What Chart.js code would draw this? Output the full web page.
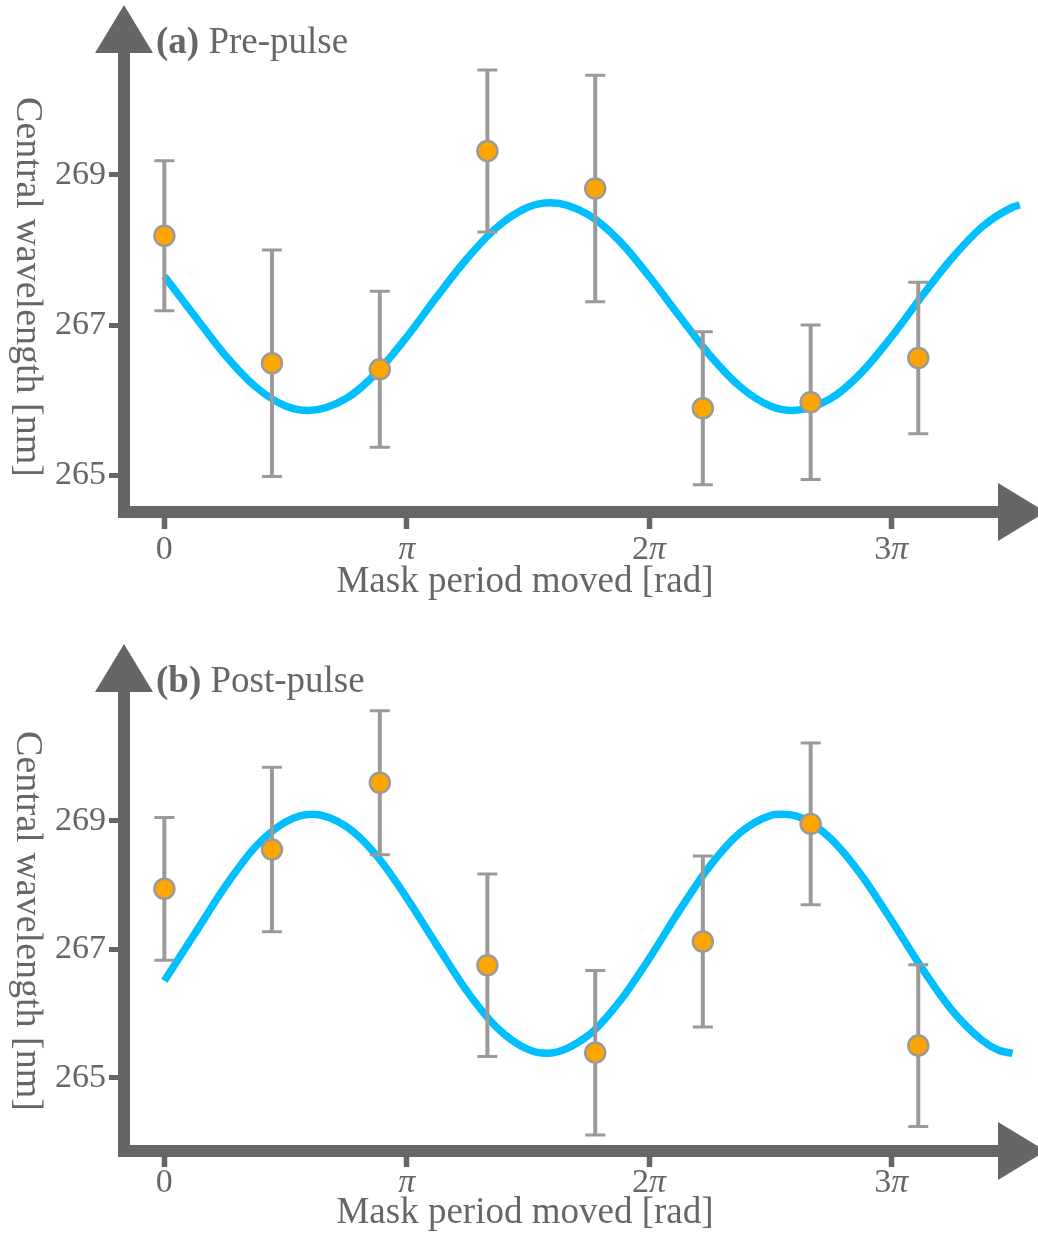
<!DOCTYPE html>
<html>
<head>
<meta charset="utf-8">
<script src="https://cdn.jsdelivr.net/npm/chart.js@4.4.0/dist/chart.umd.min.js"></script>
<style>
  body { margin: 0; background: #fff; }
  .panel { position: relative; width: 1038px; }
  #panelA { height: 616px; }
  #panelB { height: 617px; }
</style>
</head>
<body>
<div class="panel" id="panelA"><canvas id="chartA"></canvas></div>
<div class="panel" id="panelB"><canvas id="chartB"></canvas></div>
<script>
// mask shift of each measurement, in units of pi
const shifts = [0, 0.444, 0.889, 1.333, 1.778, 2.222, 2.667, 3.111];

// (a) pre-pulse: central wavelength [nm] and error
const preWavelength = [268.19, 266.49, 266.41, 269.32, 268.82, 265.89, 265.97, 266.56];
const preError = [1.0, 1.51, 1.04, 1.08, 1.51, 1.02, 1.03, 1.01];
const preFitShift = [0, 0.125, 0.25, 0.375, 0.5, 0.595, 0.75, 0.875, 1.0, 1.125, 1.25, 1.375, 1.5, 1.595, 1.75,
  1.875, 2.0, 2.125, 2.25, 2.375, 2.5, 2.595, 2.75, 2.875, 3.0, 3.125, 3.25, 3.375, 3.5, 3.53];
const preFit = [267.65, 267.12, 266.60, 266.18, 265.92, 265.86, 266.02, 266.36, 266.84, 267.38, 267.89, 268.31, 268.57, 268.63, 268.47,
  268.13, 267.65, 267.12, 266.60, 266.18, 265.92, 265.86, 266.02, 266.36, 266.84, 267.38, 267.89, 268.31, 268.57, 268.60];

// (b) post-pulse
const postWavelength = [267.94, 268.55, 269.59, 266.75, 265.39, 267.12, 268.95, 265.50];
const postError = [1.11, 1.28, 1.12, 1.42, 1.28, 1.33, 1.26, 1.26];
const postFitShift = [0, 0.125, 0.25, 0.375, 0.5, 0.61, 0.75, 0.875, 1.0, 1.125, 1.25, 1.375, 1.5, 1.58, 1.75,
  1.875, 2.0, 2.125, 2.25, 2.375, 2.5, 2.55, 2.625, 2.75, 2.875, 3.0, 3.125, 3.25, 3.375, 3.44, 3.5];
const postFit = [266.51, 267.24, 267.97, 268.59, 268.98, 269.10, 268.91, 268.46, 267.80, 267.06, 266.34, 265.77, 265.44, 265.38, 265.66,
  266.17, 266.85, 267.60, 268.29, 268.81, 269.08, 269.10, 269.05, 268.72, 268.16, 267.45, 266.71, 266.05, 265.58, 265.43, 265.38];

const yTicks = [265, 267, 269];
const xTicks = [0, 1, 2, 3];
const xTickNums = ['0', '', '2', '3'];

const AXIS = '#666666';
const BAR = '#9a9a9a';
const SERIF = '"Liberation Serif", "DejaVu Serif", serif';

// error bars go under the markers
const errorBars = {
  id: 'errorBars',
  beforeDatasetDraw(chart, args) {
    const ds = chart.data.datasets[args.index];
    if (!ds.errors) return;
    const { ctx, scales: { x, y } } = chart;
    ctx.save();
    ctx.strokeStyle = BAR;
    ds.data.forEach((p, i) => {
      const px = x.getPixelForValue(p.x);
      const lo = y.getPixelForValue(p.y - ds.errors[i]);
      const hi = y.getPixelForValue(p.y + ds.errors[i]);
      ctx.lineWidth = 4;
      ctx.beginPath();
      ctx.moveTo(px, lo);
      ctx.lineTo(px, hi);
      ctx.stroke();
      ctx.lineWidth = 3;
      ctx.beginPath();
      ctx.moveTo(px - 10, lo);
      ctx.lineTo(px + 10, lo);
      ctx.moveTo(px - 10, hi);
      ctx.lineTo(px + 10, hi);
      ctx.stroke();
    });
    ctx.restore();
  }
};

// thick arrow axes, pi tick labels and panel texts
const panelFrame = {
  id: 'panelFrame',
  beforeDatasetsDraw(chart, args, opts) {
    const { ctx, chartArea: area } = chart;
    const w = 12, head = 29, len = 48;
    const left = area.left, bottom = area.bottom;
    const cx = left + w / 2, cy = bottom - w / 2;
    ctx.save();
    ctx.fillStyle = AXIS;
    ctx.fillRect(left, opts.arrowTop + len - 1, w, bottom - opts.arrowTop - len + 1);
    ctx.beginPath();
    ctx.moveTo(cx, opts.arrowTop);
    ctx.lineTo(cx + head, opts.arrowTop + len);
    ctx.lineTo(cx - head, opts.arrowTop + len);
    ctx.closePath();
    ctx.fill();
    ctx.fillRect(left, bottom - w, opts.arrowRight - len - left + 1, w);
    ctx.beginPath();
    ctx.moveTo(opts.arrowRight, cy);
    ctx.lineTo(opts.arrowRight - len, cy - head);
    ctx.lineTo(opts.arrowRight - len, cy + head);
    ctx.closePath();
    ctx.fill();
    ctx.restore();
  },
  afterDraw(chart, args, opts) {
    const { ctx, scales: { x } } = chart;
    ctx.save();
    ctx.fillStyle = AXIS;
    ctx.textBaseline = 'alphabetic';

    // 0, pi, 2pi, 3pi
    const upright = '34px ' + SERIF;
    const italic = 'italic 34px ' + SERIF;
    xTicks.forEach((v, i) => {
      const num = xTickNums[i];
      const sym = v === 0 ? '' : 'π';
      ctx.font = upright;
      const wn = ctx.measureText(num).width;
      ctx.font = italic;
      const ws = ctx.measureText(sym).width;
      let px = x.getPixelForValue(v) - (wn + ws) / 2;
      ctx.textAlign = 'left';
      ctx.font = upright;
      ctx.fillText(num, px, opts.xTickBase);
      ctx.font = italic;
      ctx.fillText(sym, px + wn, opts.xTickBase);
    });

    // axis titles
    ctx.font = '37px ' + SERIF;
    ctx.textAlign = 'center';
    ctx.fillText('Mask period moved [rad]', 525, opts.xTitleBase);
    ctx.save();
    ctx.translate(17, opts.yTitleMid);
    ctx.rotate(Math.PI / 2);
    ctx.font = '38px ' + SERIF;
    ctx.fillText('Central wavelength [nm]', 0, 0);
    ctx.restore();

    // panel tag
    ctx.textAlign = 'left';
    ctx.font = 'bold 37px ' + SERIF;
    ctx.fillText(opts.tag, 156, opts.tagBase);
    const tw = ctx.measureText(opts.tag + ' ').width;
    ctx.font = '37px ' + SERIF;
    ctx.fillText(opts.name, 156 + tw, opts.tagBase);
    ctx.restore();
  }
};

function drawPanel(id, cfg) {
  return new Chart(document.getElementById(id), {
    type: 'scatter',
    data: {
      datasets: [
        {
          label: 'measured',
          data: shifts.map((s, i) => ({ x: s, y: cfg.values[i] })),
          errors: cfg.errors,
          pointRadius: 10,
          pointBackgroundColor: '#FFA500',
          pointBorderColor: BAR,
          pointBorderWidth: 2.5,
          order: 0,
        },
        {
          label: 'fit',
          data: cfg.fitShift.map((s, i) => ({ x: s, y: cfg.fit[i] })),
          showLine: true,
          pointRadius: 0,
          borderColor: '#00BFFF',
          borderWidth: 7.5,
          cubicInterpolationMode: 'monotone',
          order: 1,
        },
      ],
    },
    options: {
      responsive: true,
      maintainAspectRatio: false,
      animation: false,
      layout: { padding: { top: 30, right: 10, left: 0, bottom: 0 } },
      plugins: {
        legend: { display: false },
        tooltip: { enabled: false },
        panelFrame: cfg.frame,
      },
      scales: {
        x: {
          type: 'linear',
          min: -0.19136,
          max: 3.5535,
          afterBuildTicks: (s) => { s.ticks = xTicks.map((v) => ({ value: v })); },
          afterFit: (s) => { s.height = cfg.xAxisHeight; },
          ticks: { display: false },
          grid: { drawOnChartArea: false, tickLength: cfg.xTickLength, tickWidth: 5.5, color: AXIS },
          border: { display: false },
        },
        y: {
          type: 'linear',
          min: cfg.yMin,
          max: cfg.yMax,
          afterBuildTicks: (s) => { s.ticks = yTicks.map((v) => ({ value: v })); },
          afterFit: (s) => { s.width = 118; },
          ticks: { font: { family: SERIF, size: 34 }, color: AXIS, padding: 3 },
          grid: { drawOnChartArea: false, tickLength: 9, tickWidth: 5, color: AXIS },
          border: { display: false },
        },
      },
    },
    plugins: [errorBars, panelFrame],
  });
}

drawPanel('chartA', {
  values: preWavelength, errors: preError, fitShift: preFitShift, fit: preFit,
  yMin: 264.4267, yMax: 270.9333, xAxisHeight: 98, xTickLength: 11,
  frame: { arrowTop: 5, arrowRight: 1046, xTickBase: 559, xTitleBase: 592, yTitleMid: 287, tag: '(a)', name: 'Pre-pulse', tagBase: 53 },
});

drawPanel('chartB', {
  values: postWavelength, errors: postError, fitShift: postFitShift, fit: postFit,
  yMin: 263.766, yMax: 271.719, xAxisHeight: 76, xTickLength: 10,
  frame: { arrowTop: 28, arrowRight: 1046, xTickBase: 576, xTitleBase: 607, yTitleMid: 305, tag: '(b)', name: 'Post-pulse', tagBase: 76 },
});
</script>
</body>
</html>
